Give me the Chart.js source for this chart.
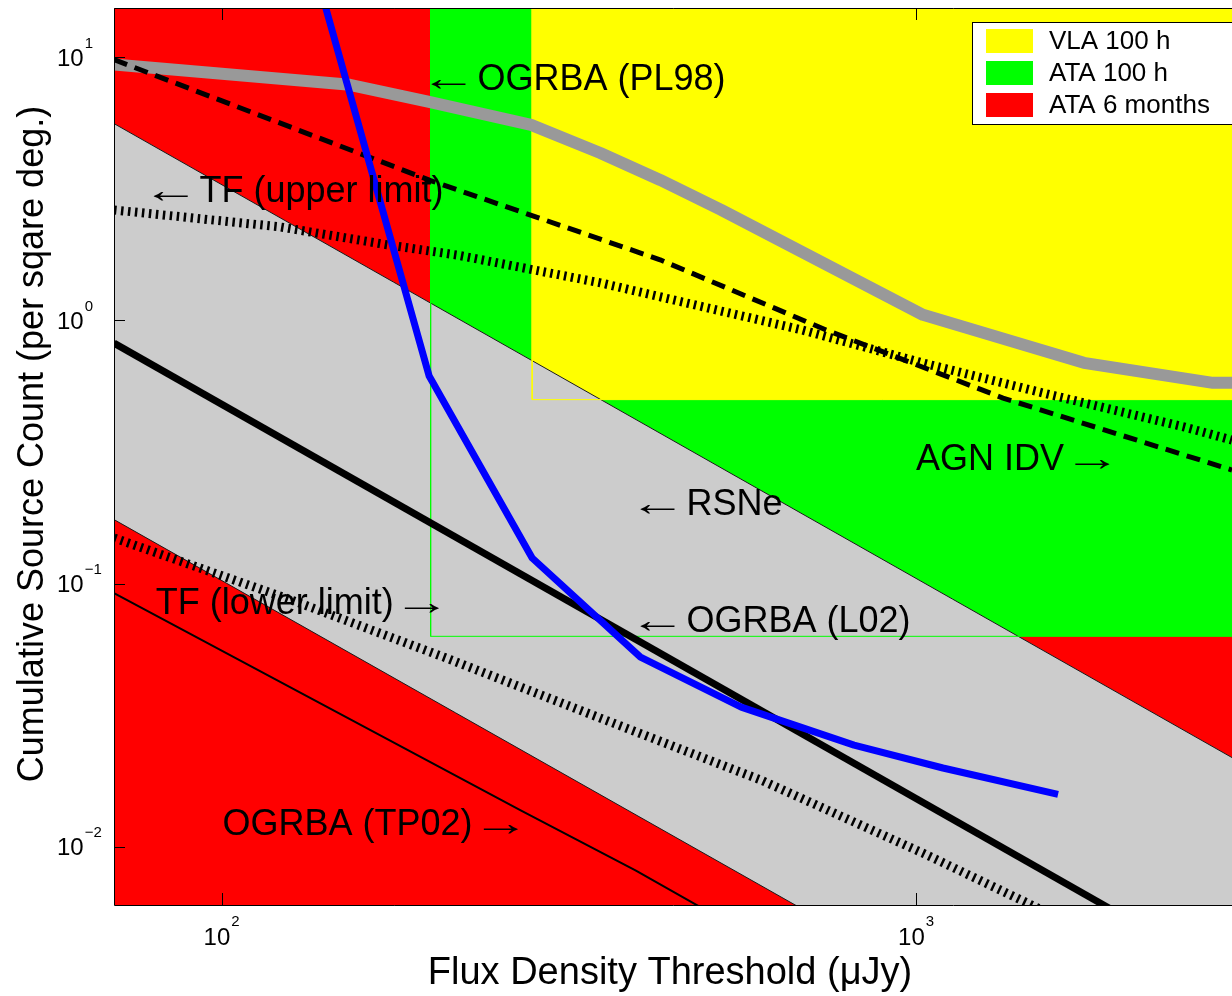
<!DOCTYPE html>
<html>
<head>
<meta charset="utf-8">
<title>Cumulative source counts vs flux density threshold</title>
<script src="https://cdn.jsdelivr.net/npm/chart.js@4.4.1/dist/chart.umd.min.js"></script>
<style>
  html, body { margin: 0; padding: 0; background: #ffffff; }
  #wrap { width: 1232px; height: 996px; position: relative; }
</style>
</head>
<body>
<div id="wrap"><canvas id="chart" width="1232" height="996"></canvas></div>
<script>
// ---- Data: flux density thresholds (µJy) and cumulative counts (per square degree) ----

// OGRBA (PL98)
const pl98Flux  = [70, 153, 199, 279, 351, 428, 524, 1023, 1744, 2675, 2850];
const pl98Count = [9.4, 7.86, 6.77, 5.54, 4.33, 3.42, 2.63, 1.05, 0.69, 0.579, 0.579];

// OGRBA (L02)
const l02Flux  = [70, 2850];
const l02Count = [0.82, 0.00317];

// OGRBA (TP02)
const tp02Flux  = [70, 270, 395, 500];
const tp02Count = [0.092, 0.0137, 0.0081, 0.0057];

// AGN IDV
const agnFlux  = [70, 200, 428, 742, 1334, 2850];
const agnCount = [9.8, 3.4, 1.70, 0.92, 0.507, 0.27];

// TF (upper limit)
const tfUpFlux  = [70, 121, 173, 219, 351, 685, 1023, 1523, 2438, 2850];
const tfUpCount = [2.63, 2.27, 1.94, 1.77, 1.39, 0.92, 0.689, 0.53, 0.393, 0.351];

// TF (lower limit)
const tfLowFlux  = [70, 126, 209, 351, 598, 1023, 1508, 1840];
const tfLowCount = [0.149, 0.0866, 0.0525, 0.0308, 0.0179, 0.00945, 0.00579, 0.0045];

// RSNe model (blue curve)
const rsneFlux  = [120, 199, 280, 401, 560, 814, 1093, 1601];
const rsneCount = [71.4, 0.615, 0.125, 0.0525, 0.0339, 0.0243, 0.0199, 0.0158];

// Euclidean (S^-1.5) band: upper and lower bounds
const bandFlux  = [70, 2850];
const bandUpper = [5.6, 0.0218];
const bandLower = [0.175, 0.00069];

// Survey sensitivity regions: flux limit and count limit
const regionNames  = ['VLA 100 h', 'ATA 100 h', 'ATA 6 months'];
const regionColors = ['#ffff00', '#00ff00', '#ff0000'];
const regionFlux   = [280, 200, 70];
const regionCount  = [0.5, 0.063, 0.006];
const regionFluxEnd  = 4000;
const regionCountEnd = 100;

// Axis ticks (decades)
const xTickExp = [2, 3];
const yTickExp = [-2, -1, 0, 1];

// Text labels placed at (flux, count)
const annotations = [
  { text: '\u2190 OGRBA (PL98)',      flux: 200.5, count: 8.2 },
  { text: '\u2190 TF (upper limit)',  flux: 79.8,  count: 3.08 },
  { text: 'AGN IDV \u2192',           flux: 1000,  count: 0.295 },
  { text: '\u2190 RSNe',              flux: 401,   count: 0.199 },
  { text: '\u2190 OGRBA (L02)',       flux: 401,   count: 0.0714 },
  { text: 'TF (lower limit) \u2192',  flux: 80.4,  count: 0.0832 },
  { text: 'OGRBA (TP02) \u2192',      flux: 100.3, count: 0.01207 }
];

const FONT = "'Liberation Sans', Arial, Helvetica, sans-serif";

function pts(xs, ys) { return xs.map((v, i) => ({ x: v, y: ys[i] })); }

function curve(label, xs, ys, color, width, order, extra) {
  return Object.assign({
    label, data: pts(xs, ys), borderColor: color, borderWidth: width,
    backgroundColor: color, fill: false, pointRadius: 0, pointHoverRadius: 0,
    tension: 0, order, clip: 0, borderJoinStyle: 'round', borderCapStyle: 'butt'
  }, extra || {});
}

// Region fills (drawn underneath the band)
const fillSets = regionNames.map((name, i) => ({
  label: name,
  data: pts([regionFlux[i], regionFluxEnd], [regionCount[i], regionCount[i]]),
  fill: 'end', backgroundColor: regionColors[i], borderWidth: 0,
  pointRadius: 0, pointHoverRadius: 0, tension: 0, order: 98 + i, clip: 0
}));

// Region outlines (drawn over the band)
const outlineSets = [0, 1].map(i => ({
  label: regionNames[i] + ' limit',
  data: pts([regionFlux[i], regionFlux[i], regionFluxEnd],
            [regionCountEnd, regionCount[i], regionCount[i]]),
  fill: false, borderColor: regionColors[i], borderWidth: 1,
  pointRadius: 0, pointHoverRadius: 0, tension: 0, order: 93 + i, clip: 0
}));

const datasets = [
  fillSets[0], fillSets[1], fillSets[2],                         // 0..2
  curve('band upper', bandFlux, bandUpper, '#1a1a1a', 1, 96,
        { fill: { target: 4 }, backgroundColor: '#cccccc' }),  // 3
  curve('band lower', bandFlux, bandLower, '#1a1a1a', 1, 95),   // 4
  outlineSets[0], outlineSets[1],                               // 5, 6
  curve('OGRBA (PL98)', pl98Flux, pl98Count, '#999999', 12, 90),
  curve('TF (upper limit)', tfUpFlux, tfUpCount, '#000000', 9, 89, { borderDash: [2.5, 4.5] }),
  curve('TF (lower limit)', tfLowFlux, tfLowCount, '#000000', 9, 88, { borderDash: [2.5, 4.5] }),
  curve('AGN IDV', agnFlux, agnCount, '#000000', 5, 87, { borderDash: [14, 8] }),
  curve('OGRBA (TP02)', tp02Flux, tp02Count, '#000000', 2, 86),
  curve('OGRBA (L02)', l02Flux, l02Count, '#000000', 7, 85),
  curve('RSNe', rsneFlux, rsneCount, '#0000ff', 7, 84)
];

// Arrow glyph stretched so that its ink spans w pixels starting at x
function drawArrow(ctx, ch, x, y, w) {
  const m = ctx.measureText(ch);
  const ink = (m.actualBoundingBoxLeft || 0) + (m.actualBoundingBoxRight || m.width);
  const s = w / ink;
  ctx.save();
  ctx.translate(x, y);
  ctx.scale(s, 1);
  ctx.fillText(ch, m.actualBoundingBoxLeft || 0, 0);
  ctx.restore();
}

function drawAnnotation(ctx, text, x, y) {
  const arrowW = 35, gap = 11;
  if (text.charAt(0) === '\u2190') {
    drawArrow(ctx, '\u2190', x, y, arrowW);
    ctx.fillText(text.slice(2), x + arrowW + gap, y);
  } else if (text.charAt(text.length - 1) === '\u2192') {
    const body = text.slice(0, -2);
    ctx.fillText(body, x, y);
    drawArrow(ctx, '\u2192', x + ctx.measureText(body).width + gap, y, arrowW);
  } else {
    ctx.fillText(text, x, y);
  }
}

// Frame, ticks, labels, annotations and legend
const decor = {
  id: 'decor',
  afterDatasetsDraw(chart) {
    const { ctx, chartArea: a, scales: { x, y } } = chart;
    ctx.save();

    // annotations
    ctx.fillStyle = '#000';
    ctx.font = '36px ' + FONT;
    ctx.textAlign = 'left';
    ctx.textBaseline = 'middle';
    annotations.forEach(n => {
      drawAnnotation(ctx, n.text, x.getPixelForValue(n.flux), y.getPixelForValue(n.count));
    });

    // frame (left, top, bottom)
    ctx.strokeStyle = '#000';
    ctx.lineWidth = 1;
    ctx.beginPath();
    ctx.moveTo(a.right + 2, a.top + 0.5);
    ctx.lineTo(a.left + 0.5, a.top + 0.5);
    ctx.lineTo(a.left + 0.5, a.bottom + 0.5);
    ctx.lineTo(a.right + 2, a.bottom + 0.5);
    ctx.stroke();

    // tick marks (inward)
    ctx.beginPath();
    xTickExp.forEach(e => {
      const px = Math.round(x.getPixelForValue(Math.pow(10, e))) + 0.5;
      ctx.moveTo(px, a.bottom); ctx.lineTo(px, a.bottom - 12);
      ctx.moveTo(px, a.top);    ctx.lineTo(px, a.top + 12);
    });
    yTickExp.forEach(e => {
      const py = Math.round(y.getPixelForValue(Math.pow(10, e))) + 0.5;
      ctx.moveTo(a.left, py); ctx.lineTo(a.left + 11, py);
    });
    ctx.stroke();

    // tick labels: 10 with superscript exponent
    const supText = e => (e < 0 ? '\u2212' + Math.abs(e) : String(e));
    ctx.textBaseline = 'alphabetic';
    ctx.textAlign = 'left';
    yTickExp.forEach(e => {
      const py = y.getPixelForValue(Math.pow(10, e));
      const lx = a.left - 57;
      ctx.font = '24px ' + FONT;
      ctx.fillText('10', lx, py + 8.5);
      const w = ctx.measureText('10').width;
      ctx.font = '15px ' + FONT;
      ctx.fillText(supText(e), lx + w + 1, py - 9.5);
    });
    xTickExp.forEach(e => {
      const px = x.getPixelForValue(Math.pow(10, e));
      ctx.font = '24px ' + FONT;
      const w1 = ctx.measureText('10').width;
      ctx.font = '15px ' + FONT;
      const w2 = ctx.measureText(supText(e)).width;
      const lx = px - (w1 + w2 + 1) / 2;
      ctx.font = '24px ' + FONT;
      ctx.fillText('10', lx, a.bottom + 40);
      ctx.font = '15px ' + FONT;
      ctx.fillText(supText(e), lx + w1 + 1, a.bottom + 21);
    });

    // axis titles
    ctx.textAlign = 'center';
    ctx.textBaseline = 'middle';
    ctx.font = '38px ' + FONT;
    ctx.fillText('Flux Density Threshold (\u03bcJy)', (a.left + a.right) / 2 - 3, a.bottom + 69);
    ctx.font = '36px ' + FONT;
    ctx.save();
    ctx.translate(a.left - 81, a.top + 436);
    ctx.rotate(-Math.PI / 2);
    ctx.fillText('Cumulative Source Count (per sqare deg.)', 0, 0);
    ctx.restore();

    // legend box
    const lx = a.right - 260, ly = a.top + 14;
    ctx.fillStyle = '#ffffff';
    ctx.fillRect(lx, ly, 300, 102);
    ctx.strokeStyle = '#000';
    ctx.lineWidth = 1;
    ctx.strokeRect(lx + 0.5, ly + 0.5, 300, 102);
    ctx.font = '26px ' + FONT;
    ctx.textAlign = 'left';
    ctx.textBaseline = 'middle';
    regionNames.forEach((name, i) => {
      const cy = ly + 19 + i * 32;
      ctx.fillStyle = regionColors[i];
      ctx.fillRect(lx + 14, cy - 12, 47, 24);
      ctx.fillStyle = '#000';
      ctx.fillText(name, lx + 77, cy + 1);
    });

    ctx.restore();
  }
};

new Chart(document.getElementById('chart'), {
  type: 'line',
  data: { datasets },
  options: {
    responsive: false,
    devicePixelRatio: 1,
    animation: false,
    events: [],
    layout: { padding: { left: 0, top: 8, right: 0, bottom: 0 } },
    plugins: {
      legend: { display: false },
      tooltip: { enabled: false },
      title: { display: false }
    },
    scales: {
      x: {
        type: 'logarithmic', min: 70, max: 2850,
        grid: { display: false }, border: { display: false },
        ticks: { display: false },
        afterFit: s => { s.height = 91; }
      },
      y: {
        type: 'logarithmic', min: 0.006, max: 15.4,
        grid: { display: false }, border: { display: false },
        ticks: { display: false },
        afterFit: s => { s.width = 114; }
      }
    }
  },
  plugins: [decor]
});
</script>
</body>
</html>
